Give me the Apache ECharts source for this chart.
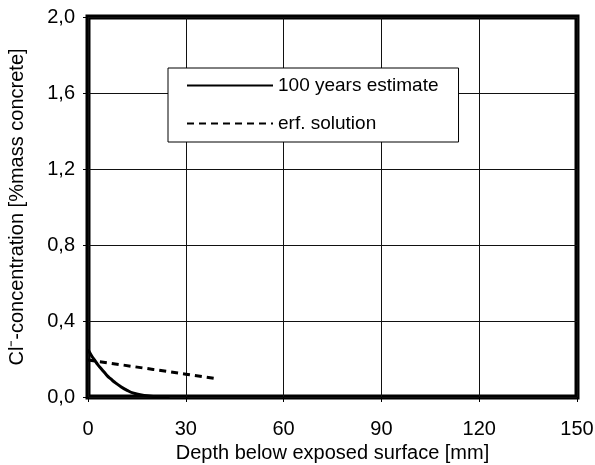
<!DOCTYPE html>
<html>
<head>
<meta charset="utf-8">
<script src="https://cdn.jsdelivr.net/npm/echarts@6/dist/echarts.min.js"></script>
<style>
  html, body { margin: 0; padding: 0; background: #fff; }
  #chart { width: 595px; height: 465px; }
</style>
</head>
<body>
<div id="chart"></div>
<script>
// Chloride profile: depth below the exposed surface [mm] vs concentration [% mass concrete]
const estimateDepth = [0, 1, 2, 3, 4, 5, 6, 7, 8, 10, 12, 14, 16, 18, 20, 22, 25];
const estimateConc  = [0.25, 0.22, 0.195, 0.17, 0.15, 0.13, 0.11, 0.095, 0.08, 0.055, 0.035, 0.02, 0.012, 0.006, 0.003, 0.001, 0];

const erfDepth = [0, 10, 20, 30, 40];
const erfConc  = [0.195, 0.17, 0.145, 0.12, 0.095];

const seriesNames = ['100 years estimate', 'erf. solution'];
const xTicks = { min: 0, max: 150, step: 30 };
const yTicks = { min: 0, max: 2.0, step: 0.4 };

const pairs = (xs, ys) => xs.map((x, i) => [x, ys[i]]);
const font = 'Liberation Sans, Arial, sans-serif';

const chart = echarts.init(document.getElementById('chart'), null, { renderer: 'canvas' });
chart.setOption({
  animation: false,
  backgroundColor: '#fff',
  grid: {
    left: 88, right: 18, top: 17, bottom: 68,
    outerBoundsMode: 'none', containLabel: false,
    show: true, borderWidth: 5, borderColor: '#000', backgroundColor: 'transparent'
  },
  legend: {
    orient: 'vertical',
    left: 168, top: 68,
    data: seriesNames,
    backgroundColor: '#fff',
    borderColor: '#000', borderWidth: 1,
    padding: [8, 20, 9, 18],
    itemWidth: 86, itemHeight: 14, itemGap: 19,
    itemStyle: { opacity: 0 },
    lineStyle: { opacity: 1 },
    textStyle: { fontFamily: font, fontSize: 19, color: '#000' }
  },
  xAxis: {
    type: 'value',
    min: xTicks.min, max: xTicks.max, interval: xTicks.step,
    name: 'Depth below exposed surface [mm]',
    nameLocation: 'middle', nameGap: 46,
    nameTextStyle: { fontFamily: font, fontSize: 20, color: '#000' },
    axisLine: { show: false },
    axisTick: { show: true, inside: false, length: 5, lineStyle: { color: '#000', width: 1 } },
    axisLabel: { margin: 22, fontFamily: font, fontSize: 20, color: '#000' },
    splitLine: { show: true, lineStyle: { color: '#111', width: 1 } }
  },
  yAxis: {
    type: 'value',
    min: yTicks.min, max: yTicks.max, interval: yTicks.step,
    name: 'Cl\u207B-concentration [%mass concrete]',
    nameLocation: 'middle', nameGap: 61,
    nameTextStyle: { fontFamily: font, fontSize: 20, color: '#000' },
    axisLine: { show: false },
    axisTick: { show: true, inside: false, length: 5, lineStyle: { color: '#000', width: 1 } },
    axisLabel: {
      margin: 13, fontFamily: font, fontSize: 20, color: '#000',
      formatter: v => v.toFixed(1).replace('.', ',')
    },
    splitLine: { show: true, lineStyle: { color: '#111', width: 1 } }
  },
  series: [
    {
      name: seriesNames[0], type: 'line', symbol: 'none', smooth: true,
      data: pairs(estimateDepth, estimateConc),
      lineStyle: { color: '#000', width: 3, type: 'solid' },
      itemStyle: { color: '#000' }
    },
    {
      name: seriesNames[1], type: 'line', symbol: 'none',
      data: pairs(erfDepth, erfConc),
      lineStyle: { color: '#000', width: 3, type: [7, 5] },
      itemStyle: { color: '#000' }
    }
  ]
});
</script>
</body>
</html>
